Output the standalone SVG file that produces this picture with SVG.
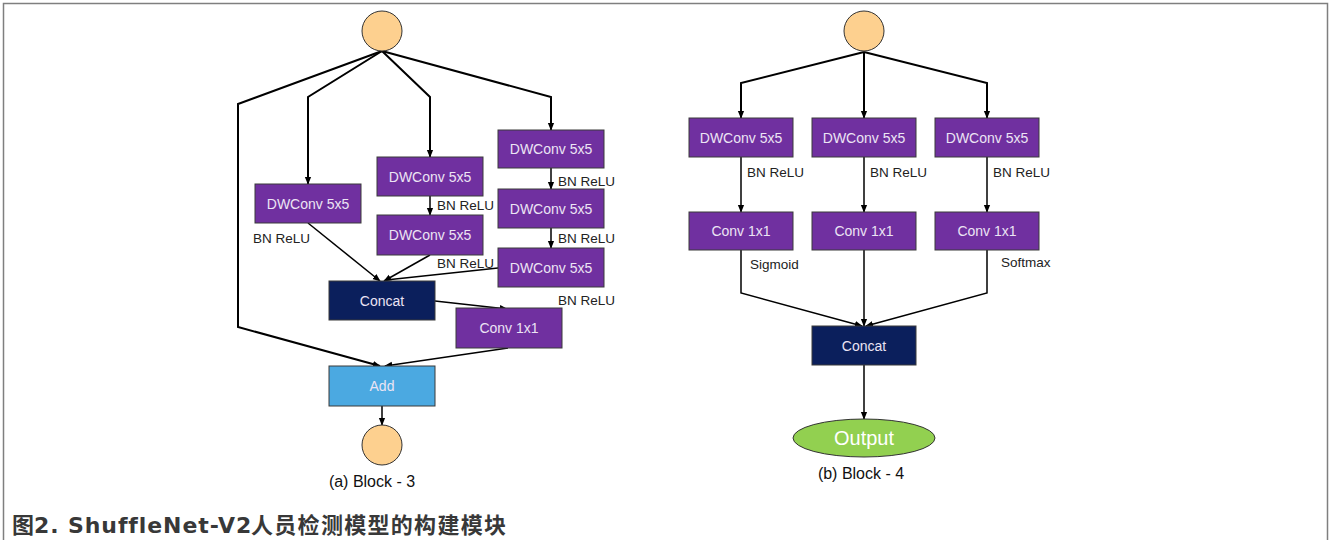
<svg xmlns="http://www.w3.org/2000/svg" width="1331" height="540" viewBox="0 0 1331 540">
  <defs>
    <marker id="arrS" viewBox="0 0 10 10" refX="9" refY="5" markerWidth="8" markerHeight="8" orient="auto" markerUnits="userSpaceOnUse">
      <path d="M0,1 L10,5 L0,9 z" fill="#000"/>
    </marker>
  </defs>
  <style>
    .frame { fill: none; stroke: #7f7f7f; stroke-width: 1.5; }
    .io { fill: #fdd08f; stroke: #333; stroke-width: 1; }
    .conv { fill: #7030a0; stroke: #3a3a3a; stroke-width: 1; }
    .cat { fill: #0b1f5c; stroke: #3a3a3a; stroke-width: 1; }
    .add { fill: #4ba9e1; stroke: #3a3a3a; stroke-width: 1; }
    .out { fill: #92d050; stroke: #333; stroke-width: 1; }
    .lbl { font-family: "Liberation Sans", Arial, sans-serif; font-size: 14px; fill: #ece4f4; text-anchor: middle; }
    .note { font-family: "Liberation Sans", Arial, sans-serif; font-size: 13.5px; fill: #222; }
    .cap { font-family: "Liberation Sans", Arial, sans-serif; font-size: 16px; fill: #111; text-anchor: middle; }
    .thick { fill: none; stroke: #000; stroke-width: 2; }
    .thin { fill: none; stroke: #000; stroke-width: 1.5; }
    .title { font-weight: bold; font-size: 22px; fill: #383838; }
    .cjk { font-family: "Noto Sans CJK SC", sans-serif; }
    .lat { font-family: "DejaVu Sans", "Noto Sans CJK SC", sans-serif; }
  </style>

  <!-- outer frame (open at the bottom) -->
  <path class="frame" d="M3.5,540 V3.5 H1327.5 V540"/>

  <!-- ===== (a) Block - 3 ===== -->
  <g id="connectors-a">
    <path class="thick" d="M382,51 L238,104 V327 L380,366" marker-end="url(#arrS)"/>
    <path class="thick" d="M382,51 L308,97 V184" marker-end="url(#arrS)"/>
    <path class="thick" d="M382,51 L430,97 V157" marker-end="url(#arrS)"/>
    <path class="thick" d="M382,51 L551,97 V130" marker-end="url(#arrS)"/>
    <path class="thin" d="M430,196 V215" marker-end="url(#arrS)"/>
    <path class="thin" d="M551,168 V189" marker-end="url(#arrS)"/>
    <path class="thin" d="M551,228 V248" marker-end="url(#arrS)"/>
    <path class="thin" d="M308,223 L380,281" marker-end="url(#arrS)"/>
    <path class="thin" d="M430,255 L384,281" marker-end="url(#arrS)"/>
    <path class="thin" d="M498,268 L386,280"/>
    <path class="thin" d="M435,301 L507,309" marker-end="url(#arrS)"/>
    <path class="thin" d="M508,348 L385,366" marker-end="url(#arrS)"/>
    <path class="thin" d="M382,406 V425" marker-end="url(#arrS)"/>
  </g>

  <g id="a-input"><circle class="io" cx="382" cy="31" r="20"/></g>

  <g id="a-b1-dw"><rect class="conv" x="255" y="184" width="106" height="39"/><text class="lbl" x="308" y="208.5">DWConv 5x5</text></g>
  <text class="note" x="253" y="243">BN ReLU</text>

  <g id="a-b2-dw1"><rect class="conv" x="377" y="157" width="106" height="39"/><text class="lbl" x="430" y="181.5">DWConv 5x5</text></g>
  <text class="note" x="437" y="210">BN ReLU</text>
  <g id="a-b2-dw2"><rect class="conv" x="377" y="215" width="106" height="40"/><text class="lbl" x="430" y="240">DWConv 5x5</text></g>
  <text class="note" x="437" y="268">BN ReLU</text>

  <g id="a-b3-dw1"><rect class="conv" x="498" y="130" width="106" height="38"/><text class="lbl" x="551" y="154">DWConv 5x5</text></g>
  <text class="note" x="558" y="186">BN ReLU</text>
  <g id="a-b3-dw2"><rect class="conv" x="498" y="189" width="106" height="39"/><text class="lbl" x="551" y="213.5">DWConv 5x5</text></g>
  <text class="note" x="558" y="243">BN ReLU</text>
  <g id="a-b3-dw3"><rect class="conv" x="498" y="248" width="106" height="39"/><text class="lbl" x="551" y="272.5">DWConv 5x5</text></g>
  <text class="note" x="558" y="305">BN ReLU</text>

  <g id="a-concat"><rect class="cat" x="329" y="281" width="106" height="39"/><text class="lbl" x="382" y="305.5">Concat</text></g>
  <g id="a-conv1x1"><rect class="conv" x="456" y="308" width="106" height="40"/><text class="lbl" x="509" y="333">Conv 1x1</text></g>
  <g id="a-add"><rect class="add" x="329" y="366" width="106" height="40"/><text class="lbl" x="382" y="391">Add</text></g>
  <g id="a-output"><circle class="io" cx="382" cy="445" r="20"/></g>

  <text class="cap" x="372" y="487">(a) Block - 3</text>

  <!-- ===== (b) Block - 4 ===== -->
  <g id="connectors-b">
    <path class="thick" d="M864,52 L741,83 V118" marker-end="url(#arrS)"/>
    <path class="thick" d="M864,52 V118" marker-end="url(#arrS)"/>
    <path class="thick" d="M864,52 L987,83 V118" marker-end="url(#arrS)"/>
    <path class="thin" d="M741,157 V212" marker-end="url(#arrS)"/>
    <path class="thin" d="M864,157 V212" marker-end="url(#arrS)"/>
    <path class="thin" d="M987,157 V212" marker-end="url(#arrS)"/>
    <path class="thin" d="M741,250 V293 L862,326" marker-end="url(#arrS)"/>
    <path class="thin" d="M864,250 V326" marker-end="url(#arrS)"/>
    <path class="thin" d="M987,250 V293 L866,326" marker-end="url(#arrS)"/>
    <path class="thin" d="M864,365 V419" marker-end="url(#arrS)"/>
  </g>

  <g id="b-input"><circle class="io" cx="864" cy="31" r="20"/></g>

  <g id="b-dw1"><rect class="conv" x="689" y="118" width="104" height="39"/><text class="lbl" x="741" y="142.5">DWConv 5x5</text></g>
  <g id="b-dw2"><rect class="conv" x="812" y="118" width="104" height="39"/><text class="lbl" x="864" y="142.5">DWConv 5x5</text></g>
  <g id="b-dw3"><rect class="conv" x="935" y="118" width="104" height="39"/><text class="lbl" x="987" y="142.5">DWConv 5x5</text></g>
  <text class="note" x="747" y="177">BN ReLU</text>
  <text class="note" x="870" y="177">BN ReLU</text>
  <text class="note" x="993" y="177">BN ReLU</text>

  <g id="b-conv1"><rect class="conv" x="689" y="212" width="104" height="38"/><text class="lbl" x="741" y="236">Conv 1x1</text></g>
  <g id="b-conv2"><rect class="conv" x="812" y="212" width="104" height="38"/><text class="lbl" x="864" y="236">Conv 1x1</text></g>
  <g id="b-conv3"><rect class="conv" x="935" y="212" width="104" height="38"/><text class="lbl" x="987" y="236">Conv 1x1</text></g>
  <text class="note" x="750" y="269">Sigmoid</text>
  <text class="note" x="1001" y="267">Softmax</text>

  <g id="b-concat"><rect class="cat" x="812" y="326" width="104" height="39"/><text class="lbl" x="864" y="350.5">Concat</text></g>
  <g id="b-output"><ellipse class="out" cx="864" cy="438" rx="71" ry="19"/><text class="lbl" x="864" y="445" style="font-size:20px;fill:#fff">Output</text></g>

  <text class="cap" x="861" y="479">(b) Block - 4</text>

  <!-- figure title -->
  <text class="title" y="533"><tspan class="cjk" x="12">图</tspan><tspan class="lat" x="34" letter-spacing="0.9">2. ShuffleNet-V2</tspan><tspan class="cjk" x="251" letter-spacing="1.3">人员检测模型的构建模块</tspan></text>
</svg>
